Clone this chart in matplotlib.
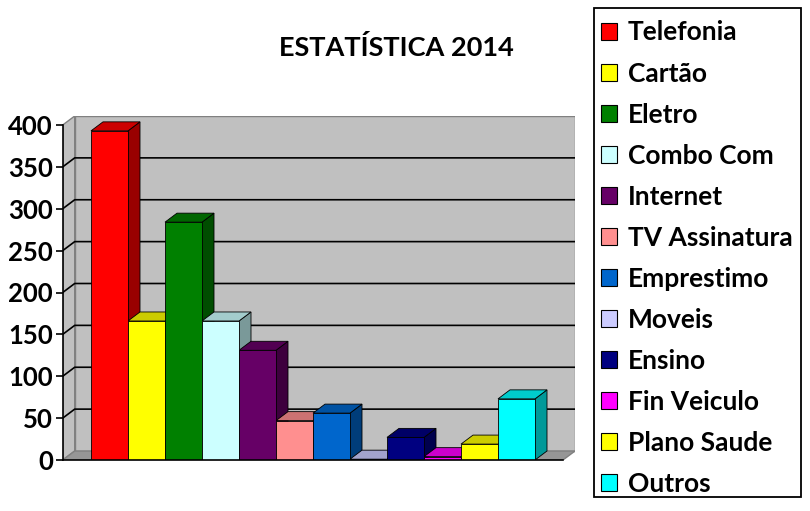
import matplotlib.pyplot as plt
from matplotlib.patches import Polygon, Patch, Rectangle
from matplotlib.colors import to_rgb
import numpy as np

plt.rcParams['font.family'] = ['Lato', 'DejaVu Sans']

categories = ['Telefonia', 'Cartão', 'Eletro', 'Combo Com', 'Internet', 'TV Assinatura',
              'Emprestimo', 'Moveis', 'Ensino', 'Fin Veiculo', 'Plano Saude', 'Outros']
values = [393, 166, 284, 166, 131, 47, 56, 1, 27, 4, 19, 73]
colors = ['#FF0000', '#FFFF00', '#008000', '#CCFFFF', '#660066', '#FF8F8F',
          '#0066CC', '#CCCCFF', '#000080', '#FF00FF', '#FFFF00', '#00FFFF']
yticks = [0, 50, 100, 150, 200, 250, 300, 350, 400]


def shade(c, f):
    r, g, b = to_rgb(c)
    return (r * f, g * f, b * f)


fig = plt.figure(figsize=(8.1, 5.11), dpi=100)
fig.patch.set_facecolor('white')

# 3d offset, in data units
dx = 12 / 37.0
dy = 9 / 0.8375
xL = -0.5 - 28.3 / 37.0
xR = -0.5 + (575 - 91) / 37.0
ytop = 400

ax = fig.add_axes([62.7 / 810, 51 / 511, (575 - 62.7) / 810, 344 / 511])
ax.set_xlim(xL, xR)
ax.set_ylim(0, ytop + dy)
ax.patch.set_alpha(0)

wall = '#C0C0C0'
edge = '#808080'
# left wall
ax.add_patch(Polygon([(xL, 0), (xL + dx, dy), (xL + dx, ytop + dy), (xL, ytop)],
                     closed=True, fc=wall, ec=edge, lw=1, zorder=0))
# back wall
ax.add_patch(Polygon([(xL + dx, dy), (xR, dy), (xR, ytop + dy), (xL + dx, ytop + dy)],
                     closed=True, fc=wall, ec=edge, lw=1, zorder=0))
# floor
ax.add_patch(Polygon([(xL, 0), (xR - dx, 0), (xR, dy), (xL + dx, dy)],
                     closed=True, fc='#969696', ec=edge, lw=1, zorder=0.5))

# gridlines on walls
for v in yticks[1:-1]:
    ax.plot([xL, xL + dx, xR], [v, v + dy, v + dy], color='black', lw=1.2, zorder=0.6)

# bars
x = np.arange(len(values))
for i, (v, c) in enumerate(zip(values, colors)):
    l, r = i - 0.5, i + 0.5
    ax.add_patch(Polygon([(r, 0), (r + dx, dy), (r + dx, v + dy), (r, v)],
                         closed=True, fc=shade(c, 0.6), ec='black', lw=0.6, zorder=2 + i))
    ax.add_patch(Polygon([(l, v), (r, v), (r + dx, v + dy), (l + dx, v + dy)],
                         closed=True, fc=shade(c, 0.8), ec='black', lw=0.6, zorder=2 + i))
ax.bar(x, values, width=1.0, color=colors, edgecolor='black', lw=0.6, zorder=20)

# axes
for s in ['top', 'right']:
    ax.spines[s].set_visible(False)
ax.spines['left'].set_bounds(0, ytop)
ax.spines['bottom'].set_bounds(xL, xR - dx)
ax.spines['left'].set_linewidth(1.2)
ax.spines['bottom'].set_linewidth(1.2)
ax.spines['left'].set_zorder(30)
ax.spines['bottom'].set_zorder(30)
ax.set_xticks([])
ax.set_yticks(yticks)
ax.set_yticklabels([str(t) for t in yticks], fontsize=18.5, fontweight='bold')
ax.tick_params(axis='y', length=5, width=1.2, pad=2)

fig.text(396 / 810, 1 - 48 / 511, 'ESTATÍSTICA 2014', ha='center', va='center',
         fontsize=19.5, fontweight='bold')

# legend frame drawn separately so it can match the original box
fig.patches.append(Rectangle((594 / 810, 14 / 511), (801 - 594) / 810, (497 - 8) / 511,
                             transform=fig.transFigure, fill=False, ec='black', lw=1.3))
handles = [Patch(fc=c, ec='black', lw=0.8) for c in colors]
leg = fig.legend(handles, categories, loc='upper left', bbox_to_anchor=(601 / 810, 1 - 20.5 / 511),
                 frameon=False, prop={'size': 19, 'weight': 'bold'},
                 handlelength=0.6, handleheight=0.6, handletextpad=0.42,
                 labelspacing=0.645, borderpad=0, borderaxespad=0)

fig.savefig('out.png', dpi=100)
